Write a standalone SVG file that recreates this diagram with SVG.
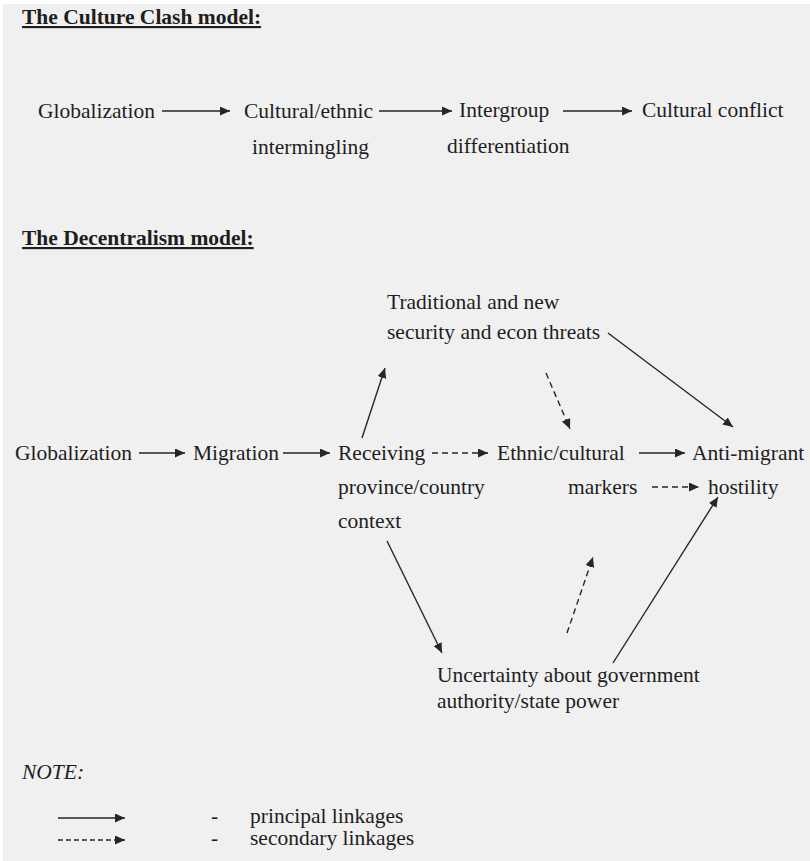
<svg xmlns="http://www.w3.org/2000/svg" width="810" height="861" viewBox="0 0 810 861">
<defs>
<style>
text{font-family:"Liberation Serif","DejaVu Serif",serif;font-size:21.5px;fill:#1e1e1e}
.title{font-weight:bold;text-decoration:underline}
.note{font-style:italic}
.c{stroke:#262626;stroke-width:1.4;fill:none}
.s{marker-end:url(#ah)}
.d{stroke-dasharray:6 4;marker-end:url(#ah)}
.ld{stroke-dasharray:5 3;marker-end:url(#ah)}
</style>
<marker id="ah" markerUnits="userSpaceOnUse" markerWidth="11" markerHeight="10" refX="10" refY="4.5" orient="auto">
<path d="M0,0 L10,4.5 L0,9 z" fill="#262626"/>
</marker>
</defs>
<rect x="0" y="0" width="810" height="861" fill="#ffffff"/>
<rect x="3" y="4" width="807" height="857" fill="#f0f0f0"/>

<g id="title-culture-clash"><text class="title" x="22" y="24">The Culture Clash model:</text></g>
<g id="cc-globalization"><text x="38" y="118">Globalization</text></g>
<g id="cc-intermingling"><text x="244" y="118">Cultural/ethnic</text><text x="252" y="154">intermingling</text></g>
<g id="cc-differentiation"><text x="459" y="117">Intergroup</text><text x="447" y="153">differentiation</text></g>
<g id="cc-conflict"><text x="642" y="117">Cultural conflict</text></g>

<g id="title-decentralism"><text class="title" x="22" y="245">The Decentralism model:</text></g>
<g id="d-threats"><text x="387" y="309">Traditional and new</text><text x="387" y="339">security and econ threats</text></g>
<g id="d-globalization"><text x="15" y="460">Globalization</text></g>
<g id="d-migration"><text x="193" y="460">Migration</text></g>
<g id="d-receiving"><text x="338" y="460">Receiving</text><text x="338" y="494">province/country</text><text x="338" y="528">context</text></g>
<g id="d-markers"><text x="497" y="460">Ethnic/cultural</text><text x="568" y="494">markers</text></g>
<g id="d-hostility"><text x="692" y="460">Anti-migrant</text><text x="708" y="494">hostility</text></g>
<g id="d-uncertainty"><text x="437" y="682">Uncertainty about government</text><text x="437" y="708">authority/state power</text></g>

<g id="note"><text class="note" x="22" y="779">NOTE:</text>
<text x="211" y="823">-</text><text x="250" y="823">principal linkages</text>
<text x="211" y="845">-</text><text x="250" y="845">secondary linkages</text></g>

<g id="connectors">
<line class="c s" x1="162" y1="111" x2="230" y2="111"/>
<line class="c s" x1="379" y1="111" x2="452" y2="111"/>
<line class="c s" x1="563" y1="111" x2="632" y2="111"/>

<line class="c s" x1="139" y1="453" x2="185" y2="453"/>
<line class="c s" x1="283" y1="453" x2="330" y2="453"/>
<line class="c d" x1="432" y1="453" x2="488" y2="453"/>
<line class="c s" x1="639" y1="453" x2="685" y2="453"/>
<line class="c d" x1="652" y1="487" x2="699" y2="487"/>

<line class="c s" x1="362" y1="438" x2="385" y2="368"/>
<line class="c d" x1="546" y1="373" x2="570" y2="429"/>
<line class="c s" x1="608" y1="333" x2="733" y2="427"/>

<line class="c s" x1="387" y1="541" x2="442" y2="653"/>
<line class="c d" x1="567" y1="633" x2="593" y2="557"/>
<line class="c s" x1="613" y1="663" x2="718" y2="497"/>

<line class="c s" x1="58" y1="818" x2="125" y2="818"/>
<line class="c ld" x1="58" y1="840" x2="125" y2="840"/>
</g>
</svg>
